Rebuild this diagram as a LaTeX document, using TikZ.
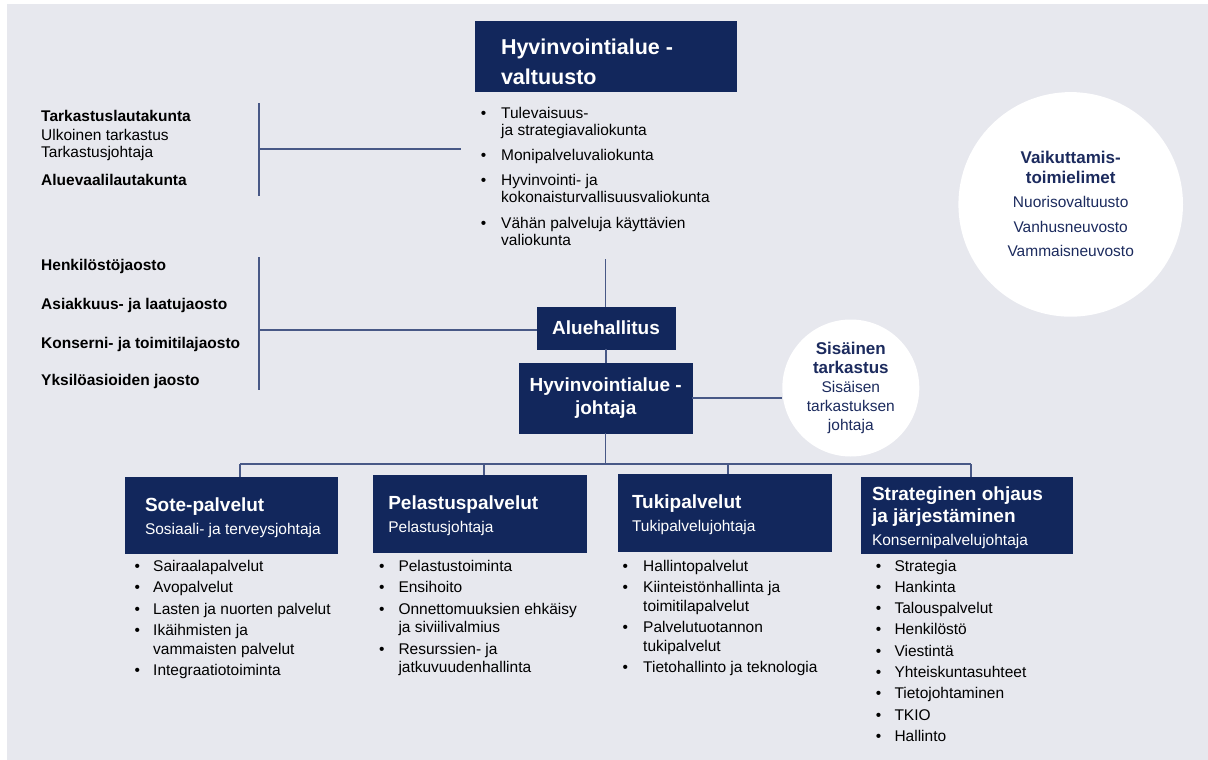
\documentclass[tikz,border=0pt]{standalone}
\usepackage{fontspec}
\setmainfont{Liberation Sans}
\usepackage{tikz}

\definecolor{navy}{RGB}{18,39,92}
\definecolor{panel}{RGB}{231,232,238}
\definecolor{wirec}{RGB}{72,88,134}
\definecolor{inknavy}{RGB}{28,43,94}

% bullet list with left aligned bullets
\newenvironment{blist}[2]{%
  \begin{list}{\textbullet}{%
    \setlength{\leftmargin}{#1}\setlength{\labelwidth}{#1}%
    \setlength{\labelsep}{0pt}\setlength{\itemsep}{#2}%
    \setlength{\topsep}{0pt}\setlength{\parsep}{0pt}%
    \setlength{\partopsep}{0pt}\setlength{\itemindent}{0pt}%
    \renewcommand{\makelabel}[1]{##1\hfil}}}%
  {\end{list}}

\newcommand{\utitle}[1]{{\bfseries\fontsize{19}{22.5}\selectfont #1}}
\newcommand{\ctitle}[1]{{\bfseries\fontsize{17}{20}\selectfont #1}}

\begin{document}
\begin{tikzpicture}[x=1pt,y=-1pt,
    box/.style={fill=navy,draw=navy,inner sep=0pt,text=white},
    boxtext/.style={anchor=west,inner sep=0pt,align=left,text=white,
      font=\fontsize{15.5}{22.5}\selectfont},
    wire/.style={draw=wirec,line width=1.1pt},
    bubble/.style={circle,fill=white,inner sep=0pt,text=inknavy,align=center},
    side/.style={anchor=base west,inner sep=0pt,font=\fontsize{15.5}{18}\selectfont},
    blk/.style={anchor=base west,inner sep=0pt}]

  \useasboundingbox (0,0) rectangle (1208,760);
  \fill[panel] (7,4) rectangle (1208,760);

  % council and its committees
  \node[box,minimum width=261pt,minimum height=70pt] (valtuusto) at (605.5,56.7) {};
  \node[boxtext,font=\bfseries\fontsize{21.5}{30}\selectfont] (valtuustot)
    at ([xshift=26pt,yshift=-5pt]valtuusto.west) {Hyvinvointialue -\\valtuusto};

  \node[blk] (valiok) at (480.6,118) {\begin{minipage}[t]{260pt}
    \fontsize{15.5}{17.5}\selectfont
    \begin{blist}{20.4pt}{7.5pt}
      \item Tulevaisuus-\newline ja strategiavaliokunta
      \item Monipalveluvaliokunta
      \item Hyvinvointi- ja\newline kokonaisturvallisuusvaliokunta
      \item Vähän palveluja käyttävien\newline valiokunta
    \end{blist}\end{minipage}};

  % left side boards
  \node[side,font=\bfseries\fontsize{15.5}{18}\selectfont] (tlk) at (41,121.5) {Tarkastuslautakunta};
  \node[side] (ulk) at (41,140) {Ulkoinen tarkastus};
  \node[side] (tjoht) at (41,157.7) {Tarkastusjohtaja};
  \node[side,font=\bfseries\fontsize{15.5}{18}\selectfont] (avl) at (41,185) {Aluevaalilautakunta};

  \foreach \y/\t [count=\i] in {270/Henkilöstöjaosto, 309/Asiakkuus- ja laatujaosto,
      348.3/Konserni- ja toimitilajaosto, 385/Yksilöasioiden jaosto}
    \node[side,font=\bfseries\fontsize{15.5}{18}\selectfont] (jaosto\i) at (41,\y) {\t};

  \coordinate (b1t) at (259,103.3);
  \coordinate (b1b) at (259,196);
  \coordinate (b1m) at (259,149);
  \coordinate (b1e) at (461,149);
  \draw[wire] (b1t) -- (b1b);
  \draw[wire] (b1m) -- (b1e);

  % board and director
  \node[box,minimum width=138pt,minimum height=41.5pt,
    font=\bfseries\fontsize{19}{22}\selectfont] (hallitus) at (606,328) {Aluehallitus};
  \node[box,minimum width=173pt,minimum height=70pt,align=center,
    font=\bfseries\fontsize{19}{23.5}\selectfont] (johtaja) at (605.7,398)
    {Hyvinvointialue -\\johtaja};

  \coordinate (b2t) at (259,257);
  \coordinate (b2b) at (259,390);
  \coordinate (b2m) at (259,330);
  \draw[wire] (b2t) -- (b2b);
  \draw[wire] (b2m) -- (b2m -| hallitus.west);

  \coordinate (vtop) at (605.7,259);
  \draw[wire] (vtop) -- (vtop |- hallitus.north);
  \draw[wire] (hallitus.south) -- (hallitus.south |- johtaja.north);

  % circles
  \node[bubble,minimum size=137pt,font=\fontsize{15.5}{19}\selectfont] (sisainen) at (850.8,388)
    {\ctitle{Sisäinen}\\\ctitle{tarkastus}\\Sisäisen\\tarkastuksen\\johtaja};
  \node[bubble,minimum size=224.6pt,font=\fontsize{15.5}{20}\selectfont] (vaikutus) at (1070.7,204.4)
    {\ctitle{Vaikuttamis-}\\\ctitle{toimielimet}\\[4pt]Nuorisovaltuusto\\[4.5pt]Vanhusneuvosto\\[4.5pt]Vammaisneuvosto};

  \draw[wire] (johtaja.east) -- (johtaja.east -| sisainen.west);

  % bus to the service units
  \coordinate (busL) at (240,464);
  \coordinate (busR) at (971,464);
  \draw[wire] (johtaja.south) -- (johtaja.south |- busL);
  \draw[wire] (busL) -- (busR);

  \node[box,minimum width=212pt,minimum height=76.6pt] (sote) at (231,515) {};
  \node[box,minimum width=212.4pt,minimum height=76.7pt] (pelastus) at (479.5,513.4) {};
  \node[box,minimum width=213pt,minimum height=77pt] (tuki) at (724.5,512.5) {};
  \node[box,minimum width=211pt,minimum height=76pt] (strat) at (966.5,515) {};

  \foreach \n/\x in {sote/240, pelastus/484, tuki/728, strat/971} {
    \coordinate (drop\n) at (\x,464);
    \draw[wire] (drop\n) -- (drop\n |- \n.north);
  }

  \node[boxtext] (sotet) at ([xshift=20pt,yshift=-2.5pt]sote.west) {\utitle{Sote-palvelut}\\Sosiaali- ja terveysjohtaja};
  \node[boxtext] (pelastust) at ([xshift=15pt,yshift=-2.5pt]pelastus.west) {\utitle{Pelastuspalvelut}\\Pelastusjohtaja};
  \node[boxtext] (tukit) at ([xshift=14pt,yshift=-2pt]tuki.west) {\utitle{Tukipalvelut}\\Tukipalvelujohtaja};
  \node[boxtext] (stratt) at ([xshift=11pt,yshift=-2.5pt]strat.west)
    {\utitle{Strateginen ohjaus}\\\utitle{ja järjestäminen}\\Konsernipalvelujohtaja};

  % unit task lists
  \node[blk] (sotel) at (134.5,571) {\begin{minipage}[t]{200pt}
    \fontsize{15.5}{18.5}\selectfont
    \begin{blist}{18.5pt}{3pt}
      \item Sairaalapalvelut
      \item Avopalvelut
      \item Lasten ja nuorten palvelut
      \item Ikäihmisten ja\newline vammaisten palvelut
      \item Integraatiotoiminta
    \end{blist}\end{minipage}};

  \node[blk] (pelastusl) at (379,571) {\begin{minipage}[t]{220pt}
    \fontsize{15.5}{18.5}\selectfont
    \begin{blist}{19.3pt}{3pt}
      \item Pelastustoiminta
      \item Ensihoito
      \item Onnettomuuksien ehkäisy\newline ja siviilivalmius
      \item Resurssien- ja\newline jatkuvuudenhallinta
    \end{blist}\end{minipage}};

  \node[blk] (tukil) at (622.3,571) {\begin{minipage}[t]{220pt}
    \fontsize{15.5}{18.5}\selectfont
    \begin{blist}{20.7pt}{3pt}
      \item Hallintopalvelut
      \item Kiinteistönhallinta ja\newline toimitilapalvelut
      \item Palvelutuotannon\newline tukipalvelut
      \item Tietohallinto ja teknologia
    \end{blist}\end{minipage}};

  \node[blk] (stratl) at (875.6,571) {\begin{minipage}[t]{200pt}
    \fontsize{15.5}{18.5}\selectfont
    \begin{blist}{18.7pt}{2.8pt}
      \item Strategia
      \item Hankinta
      \item Talouspalvelut
      \item Henkilöstö
      \item Viestintä
      \item Yhteiskuntasuhteet
      \item Tietojohtaminen
      \item TKIO
      \item Hallinto
    \end{blist}\end{minipage}};
\end{tikzpicture}
\end{document}
